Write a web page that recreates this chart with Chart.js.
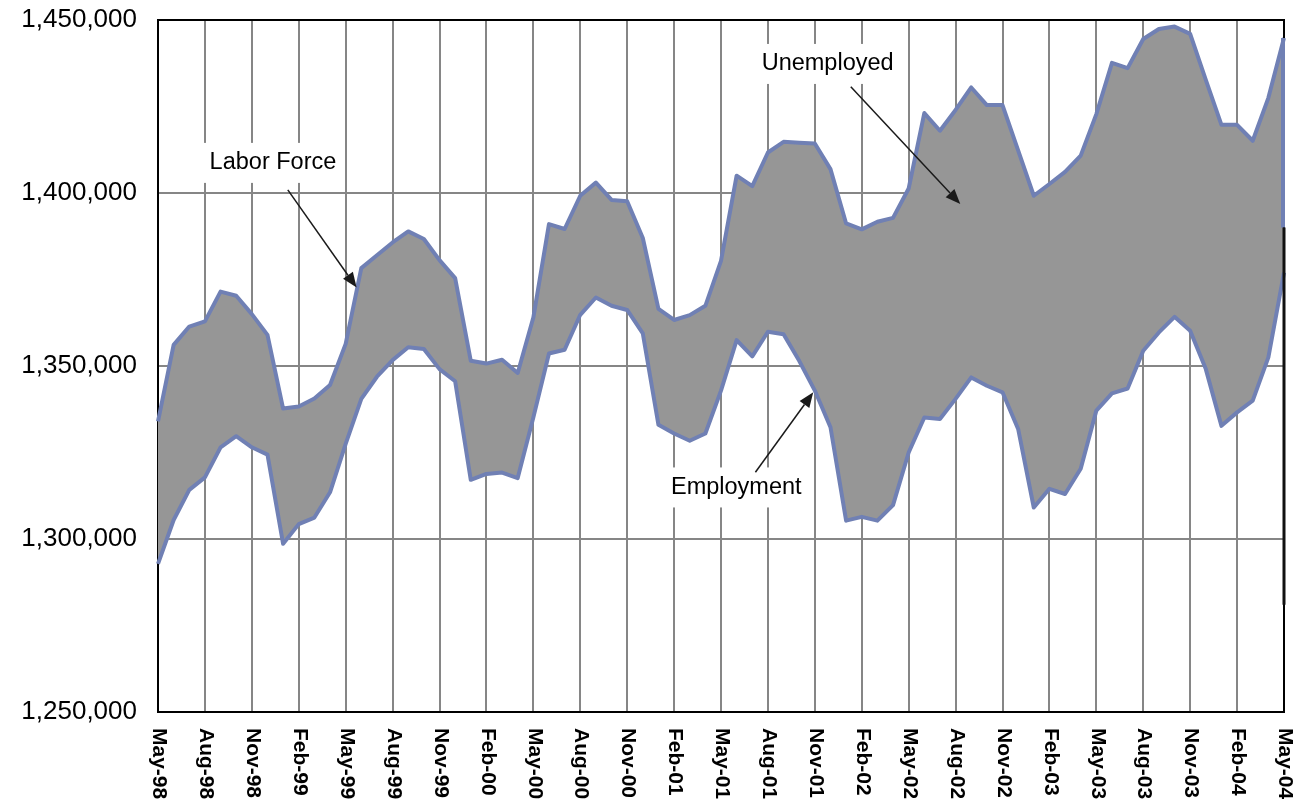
<!DOCTYPE html>
<html>
<head>
<meta charset="utf-8">
<script src="https://cdn.jsdelivr.net/npm/chart.js@4.4.1/dist/chart.umd.min.js"></script>
<style>
  html, body { margin: 0; padding: 0; background: #fff; }
  #wrap { width: 1306px; height: 811px; position: relative; }
</style>
</head>
<body>
<div id="wrap"><canvas id="myChart"></canvas></div>
<script>
// monthly categories, May-98 .. May-04
const months = [
  "May-98", "Jun-98", "Jul-98", "Aug-98", "Sep-98", "Oct-98", "Nov-98", "Dec-98",
  "Jan-99", "Feb-99", "Mar-99", "Apr-99", "May-99", "Jun-99", "Jul-99", "Aug-99", "Sep-99", "Oct-99", "Nov-99", "Dec-99",
  "Jan-00", "Feb-00", "Mar-00", "Apr-00", "May-00", "Jun-00", "Jul-00", "Aug-00", "Sep-00", "Oct-00", "Nov-00", "Dec-00",
  "Jan-01", "Feb-01", "Mar-01", "Apr-01", "May-01", "Jun-01", "Jul-01", "Aug-01", "Sep-01", "Oct-01", "Nov-01", "Dec-01",
  "Jan-02", "Feb-02", "Mar-02", "Apr-02", "May-02", "Jun-02", "Jul-02", "Aug-02", "Sep-02", "Oct-02", "Nov-02", "Dec-02",
  "Jan-03", "Feb-03", "Mar-03", "Apr-03", "May-03", "Jun-03", "Jul-03", "Aug-03", "Sep-03", "Oct-03", "Nov-03", "Dec-03",
  "Jan-04", "Feb-04", "Mar-04", "Apr-04", "May-04"
];

// labels shown under the axis (every 3rd month)
const tickLabels = [
  "May-98", "Aug-98", "Nov-98", "Feb-99", "May-99", "Aug-99", "Nov-99", "Feb-00", "May-00",
  "Aug-00", "Nov-00", "Feb-01", "May-01", "Aug-01", "Nov-01", "Feb-02", "May-02", "Aug-02",
  "Nov-02", "Feb-03", "May-03", "Aug-03", "Nov-03", "Feb-04", "May-04"
];

const laborForce = [
  1334000, 1356100, 1361400, 1362900, 1371500, 1370300, 1365000, 1359000,
  1337700, 1338300, 1340600, 1344500, 1356400, 1378300, 1382000, 1385700, 1388900, 1386700, 1380600, 1375400,
  1351500, 1350700, 1351800, 1348000, 1364000, 1391000, 1389600, 1399200, 1403000, 1398000, 1397600, 1387000,
  1366500, 1363300, 1364700, 1367400, 1380400, 1405000, 1402000, 1411700, 1414800, 1414500, 1414300, 1406900,
  1391200, 1389500, 1391700, 1392800, 1401300, 1423100, 1418000, 1424000, 1430500, 1425400, 1425400, 1412300,
  1399200, 1402600, 1406100, 1410800, 1422800, 1437600, 1436100, 1444500, 1447400, 1448100, 1446000, 1432700,
  1419700, 1419700, 1415100, 1427500, 1444800
];

const employment = [
  1292800, 1305500, 1314200, 1317800, 1326500, 1329700, 1326500, 1324400,
  1298600, 1304300, 1306200, 1313500, 1327500, 1340500, 1346900, 1351700, 1355400, 1354900, 1349100, 1345600,
  1317100, 1318800, 1319200, 1317600, 1335100, 1353600, 1354700, 1364800, 1369800, 1367400, 1366200, 1359400,
  1333000, 1330500, 1328400, 1330500, 1342900, 1357500, 1352800, 1359900, 1359200, 1351500, 1342900, 1332300,
  1305300, 1306400, 1305300, 1309800, 1325000, 1335100, 1334700, 1340500, 1346700, 1344300, 1342400, 1331800,
  1309100, 1314500, 1313000, 1320300, 1337100, 1342100, 1343500, 1354400, 1359700, 1364200, 1360200, 1349100,
  1332700, 1336600, 1340000, 1352500, 1377000
];

const yMin = 1250000;
const yMax = 1450000;
const yStep = 50000;

// callouts, placed in data units (month index, value)
const callouts = [
  { text: "Labor Force", x: 3.3, y: 1408700, from: [8.3, 1400900], to: [12.7, 1372700] },
  { text: "Unemployed", x: 38.6, y: 1437300, from: [44.3, 1430700], to: [51.3, 1396800] },
  { text: "Employment", x: 32.8, y: 1314900, from: [38.2, 1319300], to: [41.9, 1342400] }
];

// odd bits on the right edge of the original (area outline / heavy frame piece)
const edgeOutlineTo = 1390000;
const edgeHeavyFrom = 1390000;
const edgeHeavyTo = 1281000;

const FONT = "'Liberation Sans', Arial, Helvetica, sans-serif";
const lineColor = "rgb(112,128,180)";
const areaColor = "#969696";
const gridColor = "#868686";

Chart.defaults.font.family = FONT;
Chart.defaults.color = "#000";

const drawArrow = (ctx, x1, y1, x2, y2) => {
  const ang = Math.atan2(y2 - y1, x2 - x1);
  const len = 15, half = 6;
  const bx = x2 - len * Math.cos(ang);
  const by = y2 - len * Math.sin(ang);
  ctx.beginPath();
  ctx.moveTo(x1, y1);
  ctx.lineTo(bx, by);
  ctx.stroke();
  ctx.beginPath();
  ctx.moveTo(x2, y2);
  ctx.lineTo(bx + half * Math.sin(ang), by - half * Math.cos(ang));
  ctx.lineTo(bx - half * Math.sin(ang), by + half * Math.cos(ang));
  ctx.closePath();
  ctx.fill();
};

const extras = {
  id: "extras",
  afterDraw(chart) {
    const { ctx, chartArea } = chart;
    const xs = chart.scales.x;
    const ys = chart.scales.y;

    // top + right frame
    ctx.save();
    ctx.strokeStyle = "#000";
    ctx.lineWidth = 2;
    ctx.beginPath();
    ctx.moveTo(chartArea.left, chartArea.top);
    ctx.lineTo(chartArea.right, chartArea.top);
    ctx.lineTo(chartArea.right, chartArea.bottom);
    ctx.stroke();

    // right edge: outline piece + heavy frame piece
    const last = laborForce.length - 1;
    const rx = xs.getPixelForValue(last);
    ctx.strokeStyle = lineColor;
    ctx.lineWidth = 4;
    ctx.beginPath();
    ctx.moveTo(rx - 1, ys.getPixelForValue(laborForce[last]));
    ctx.lineTo(rx - 1, ys.getPixelForValue(edgeOutlineTo));
    ctx.stroke();
    ctx.strokeStyle = "#111";
    ctx.lineWidth = 3;
    ctx.beginPath();
    ctx.moveTo(rx, ys.getPixelForValue(edgeHeavyFrom));
    ctx.lineTo(rx, ys.getPixelForValue(edgeHeavyTo));
    ctx.stroke();
    ctx.restore();

    // rotated month labels (reading downwards)
    ctx.save();
    ctx.font = "bold 21px " + FONT;
    ctx.fillStyle = "#000";
    ctx.textAlign = "left";
    ctx.textBaseline = "middle";
    tickLabels.forEach((lab) => {
      const x = xs.getPixelForValue(months.indexOf(lab));
      ctx.save();
      ctx.translate(x + 1, chartArea.bottom + 16);
      ctx.rotate(Math.PI / 2);
      ctx.fillText(lab, 0, 0);
      ctx.restore();
    });
    ctx.restore();

    // callouts
    ctx.save();
    ctx.font = "23.5px " + FONT;
    ctx.textAlign = "left";
    ctx.textBaseline = "middle";
    callouts.forEach((c) => {
      const tx = xs.getPixelForValue(c.x);
      const ty = ys.getPixelForValue(c.y);
      const w = ctx.measureText(c.text).width;
      ctx.fillStyle = "#fff";
      ctx.fillRect(tx - 6, ty - 20, w + 12, 40);
      ctx.fillStyle = "#000";
      ctx.fillText(c.text, tx, ty);
      ctx.strokeStyle = "#1a1a1a";
      ctx.fillStyle = "#1a1a1a";
      ctx.lineWidth = 1.5;
      drawArrow(ctx,
        xs.getPixelForValue(c.from[0]), ys.getPixelForValue(c.from[1]),
        xs.getPixelForValue(c.to[0]), ys.getPixelForValue(c.to[1]));
    });
    ctx.restore();
  }
};

const data = {
  labels: months,
  datasets: [
    {
      label: "Labor Force",
      data: laborForce,
      borderColor: lineColor,
      borderWidth: 4,
      backgroundColor: areaColor,
      fill: "+1",
      pointRadius: 0,
      tension: 0,
      borderJoinStyle: "round"
    },
    {
      label: "Employment",
      data: employment,
      borderColor: lineColor,
      borderWidth: 4,
      fill: false,
      pointRadius: 0,
      tension: 0,
      borderJoinStyle: "round"
    }
  ]
};

const config = {
  type: "line",
  data,
  options: {
    responsive: true,
    maintainAspectRatio: false,
    animation: false,
    layout: { padding: { top: 20, right: 22, left: 0, bottom: 0 } },
    plugins: {
      legend: { display: false },
      tooltip: { enabled: false },
      filler: { drawTime: "beforeDatasetsDraw" }
    },
    scales: {
      x: {
        type: "category",
        offset: false,
        afterFit: (scale) => {
          scale.height = 99;
          scale.paddingLeft = 0;
          scale.paddingRight = 0;
        },
        ticks: { display: false, autoSkip: false },
        grid: {
          drawTicks: false,
          lineWidth: 2,
          color: (c) => (c.index % 3 === 0 ? gridColor : "rgba(0,0,0,0)")
        },
        border: { color: "#000", width: 2 }
      },
      y: {
        min: yMin,
        max: yMax,
        afterFit: (scale) => {
          scale.width = 158;
          scale.paddingTop = 0;
          scale.paddingBottom = 0;
        },
        ticks: {
          stepSize: yStep,
          padding: 21,
          font: { size: 26 },
          color: "#000",
          callback: (v) => v.toLocaleString("en-US")
        },
        grid: { drawTicks: false, lineWidth: 2, color: gridColor },
        border: { color: "#000", width: 2 }
      }
    }
  },
  plugins: [extras]
};

const myChart = new Chart(document.querySelector("#myChart"), config);
</script>
</body>
</html>
